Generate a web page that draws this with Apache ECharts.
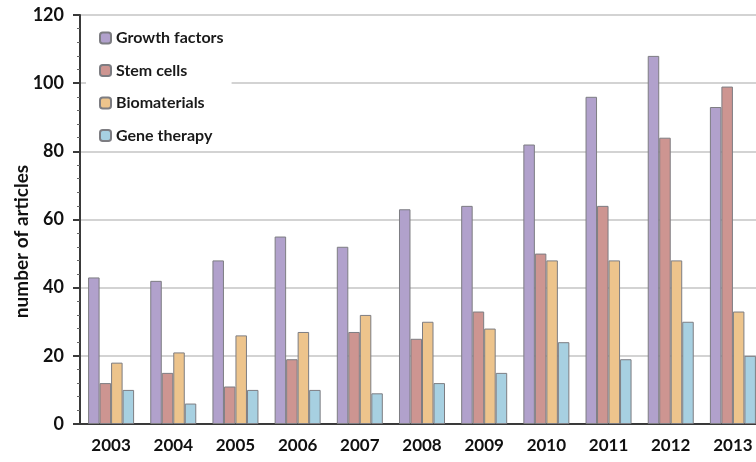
<!DOCTYPE html>
<html>
<head>
<meta charset="utf-8">
<script src="https://cdn.jsdelivr.net/npm/echarts@6/dist/echarts.min.js"></script>
<style>
  html, body { margin: 0; padding: 0; background: #fff; }
  #chart { width: 756px; height: 462px; }
</style>
</head>
<body>
<div id="chart"></div>
<script>
// Articles per year by research topic
const years = ['2003','2004','2005','2006','2007','2008','2009','2010','2011','2012','2013'];
const growthFactors = [43, 42, 48, 55, 52, 63, 64, 82, 96, 108, 93];
const stemCells     = [12, 15, 11, 19, 27, 25, 33, 50, 64, 84, 99];
const biomaterials  = [18, 21, 26, 27, 32, 30, 28, 48, 48, 48, 33];
const geneTherapy   = [10, 6, 10, 10, 9, 12, 15, 24, 19, 30, 20];
const yTicks = [0, 20, 40, 60, 80, 100, 120];

const FONT = 'Lato, "Open Sans", sans-serif';

function bar(name, data, color) {
  return {
    name: name,
    type: 'bar',
    data: data,
    barGap: '0%',
    barCategoryGap: '26%',
    itemStyle: { color: color, borderColor: '#7d7d82', borderWidth: 1 }
  };
}

const chart = echarts.init(document.getElementById('chart'));
chart.setOption({
  animation: false,
  backgroundColor: '#ffffff',
  textStyle: { fontFamily: FONT },
  grid: { left: 80, top: 15, width: 684, bottom: 38, containLabel: false, outerBoundsMode: 'none' },
  legend: {
    orient: 'vertical',
    left: 86,
    top: 24,
    padding: [6, 8, 4, 13],
    backgroundColor: '#ffffff',
    itemWidth: 11,
    itemHeight: 11,
    itemGap: 16.5,
    textStyle: { fontFamily: FONT, fontWeight: 'bold', fontSize: 16, color: '#1a1a1a' },
    data: ['Growth factors', 'Stem cells', 'Biomaterials', 'Gene therapy']
  },
  xAxis: {
    type: 'category',
    data: years,
    axisLine: { lineStyle: { color: '#3a3a3a', width: 2 } },
    axisTick: { show: false },
    axisLabel: { fontFamily: FONT, fontWeight: 'bold', fontSize: 17, color: '#111', margin: 13 }
  },
  yAxis: {
    type: 'value',
    min: yTicks[0],
    max: yTicks[yTicks.length - 1],
    interval: 20,
    name: 'number of articles',
    nameLocation: 'middle',
    nameGap: 49,
    nameMoveOverlap: false,
    nameRotate: 90,
    nameTextStyle: { fontFamily: FONT, fontWeight: 'bold', fontSize: 19, color: '#111', padding: [0, 44, 0, 0] },
    axisLine: { show: true, lineStyle: { color: '#3a3a3a', width: 2 } },
    axisTick: { show: true, length: 7, lineStyle: { color: '#3a3a3a', width: 2 } },
    minorTick: { show: true, splitNumber: 5, length: 3, lineStyle: { color: '#666', width: 1 } },
    axisLabel: { fontFamily: FONT, fontWeight: 'bold', fontSize: 18, color: '#111', margin: 16 },
    splitLine: { lineStyle: { color: '#c4c4c4', width: 1.5 } }
  },
  series: [
    bar('Growth factors', growthFactors, '#b1a1cc'),
    bar('Stem cells', stemCells, '#cd9591'),
    bar('Biomaterials', biomaterials, '#edc48c'),
    bar('Gene therapy', geneTherapy, '#a7d0e1')
  ]
});
</script>
</body>
</html>
